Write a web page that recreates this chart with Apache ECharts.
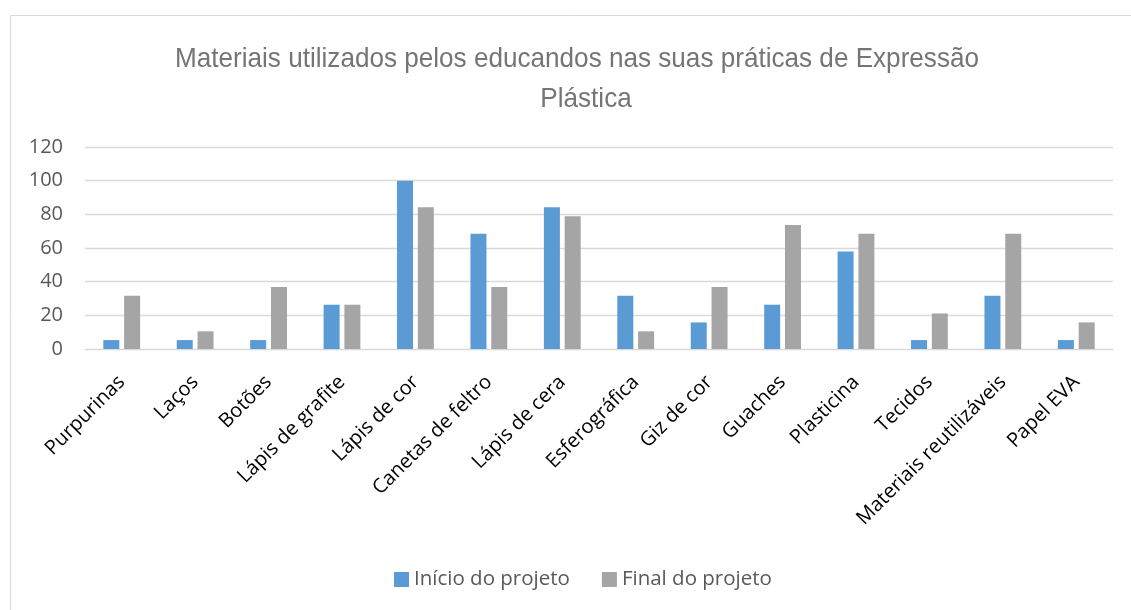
<!DOCTYPE html>
<html>
<head>
<meta charset="utf-8">
<script src="https://cdn.jsdelivr.net/npm/echarts@6/dist/echarts.min.js"></script>
<style>
html,body{margin:0;padding:0;background:#fff;}
#chart{width:1131px;height:610px;}
</style>
</head>
<body>
<div id="chart"></div>
<script>
const categories = ["Purpurinas","Laços","Botões","Lápis de grafite","Lápis de cor","Canetas de feltro","Lápis de cera","Esferográfica","Giz de cor","Guaches","Plasticina","Tecidos","Materiais reutilizáveis","Papel EVA"];
const inicio = [5.3, 5.3, 5.3, 26.3, 100, 68.4, 84.2, 31.6, 15.8, 26.3, 57.9, 5.3, 31.6, 5.3];
const final = [31.6, 10.5, 36.8, 26.3, 84.2, 36.8, 78.9, 10.5, 36.8, 73.7, 68.4, 21.1, 68.4, 15.8];
const seriesNames = ["Início do projeto", "Final do projeto"];
const titleLines = ["Materiais utilizados pelos educandos nas suas práticas de Expressão", "Plástica"];
const yTicks = {min: 0, max: 120, interval: 20};

// condensed title emulation: measure text and squeeze horizontally
const titleFont = '28px "Liberation Sans", Arial, sans-serif';
const cv = document.createElement('canvas').getContext('2d');
cv.font = titleFont;
const w1 = cv.measureText(titleLines[0]).width;
const squeeze = 804 / w1;

const chart = echarts.init(document.getElementById('chart'));
chart.setOption({
  animation: false,
  backgroundColor: '#fff',
  graphic: [
    {type: 'rect', left: 8, top: 13, shape: {width: 1140, height: 620},
     style: {fill: 'none', stroke: '#D9D9D9', lineWidth: 1}},
    {type: 'text', x: 577, y: 73, scaleX: squeeze,
     style: {text: titleLines[0], font: titleFont, fill: '#757575', align: 'center', verticalAlign: 'bottom'}},
    {type: 'text', x: 586, y: 113, scaleX: squeeze,
     style: {text: titleLines[1], font: titleFont, fill: '#757575', align: 'center', verticalAlign: 'bottom'}}
  ],
  legend: {
    bottom: 15, left: 389,
    itemWidth: 15, itemHeight: 15, itemGap: 32,
    icon: 'rect',
    textStyle: {fontFamily: '"Open Sans", sans-serif', fontSize: 20.5, color: '#595959'},
    data: seriesNames
  },
  grid: {left: 85, right: 18, top: 147, bottom: 261},
  xAxis: {
    type: 'category', data: categories,
    axisLine: {show: true, lineStyle: {color: '#D9D9D9', width: 1}},
    axisTick: {show: false},
    axisLabel: {rotate: 45, interval: 0, margin: 30, fontFamily: '"Open Sans", sans-serif', fontSize: 20, color: '#000'}
  },
  yAxis: {
    type: 'value', min: yTicks.min, max: yTicks.max, interval: yTicks.interval,
    axisLine: {show: false}, axisTick: {show: false},
    splitLine: {lineStyle: {color: '#D9D9D9', width: 1.3}},
    axisLabel: {margin: 22, fontFamily: '"Open Sans", sans-serif', fontSize: 20, color: '#595959'}
  },
  series: [
    {name: seriesNames[0], type: 'bar', data: inicio, barWidth: 16, barGap: '30%', itemStyle: {color: '#5B9BD5'}},
    {name: seriesNames[1], type: 'bar', data: final, barWidth: 16, barGap: '30%', itemStyle: {color: '#A5A5A5'}}
  ]
});
</script>
</body>
</html>
